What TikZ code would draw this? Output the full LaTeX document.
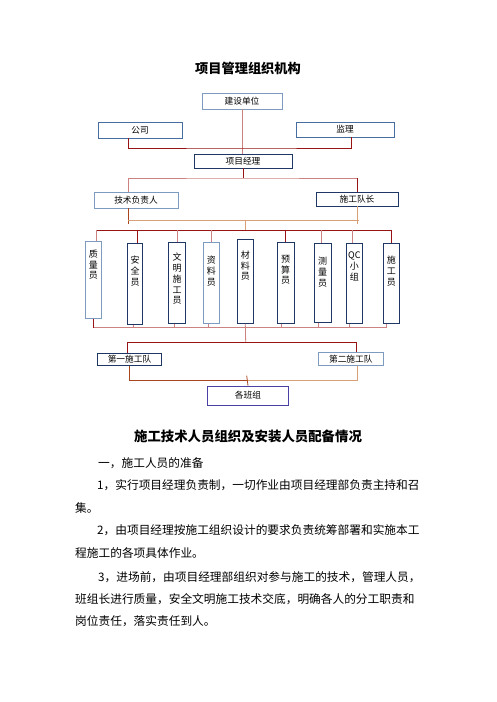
\documentclass[tikz,border=0pt]{standalone}
\usepackage{fontspec}
\setmainfont{Noto Sans CJK SC}
\usetikzlibrary{positioning}
\definecolor{lblue}{RGB}{125,155,190}
\definecolor{mblue}{RGB}{70,110,160}
\definecolor{nblue}{RGB}{30,55,100}
\definecolor{pblue}{RGB}{75,65,165}
\definecolor{lred}{RGB}{150,20,20}
\definecolor{lpink}{RGB}{205,130,130}
\definecolor{ltan}{RGB}{215,160,120}
\definecolor{lbrn}{RGB}{170,70,30}

\begin{document}
\begin{tikzpicture}[x=1pt, y=-1pt,
  hbox/.style={draw=lblue, line width=0.9pt, inner sep=0pt, font=\fontsize{8.7}{10}\selectfont},
  vbox/.style={draw=nblue, line width=0.9pt, inner sep=0pt},
  vlab/.style={anchor=north, align=center, inner sep=0pt, font=\fontsize{9}{10.8}\selectfont},
  dred/.style={draw=lred, line width=0.8pt},
  pk/.style={draw=lpink, line width=0.8pt},
  tn/.style={draw=ltan, line width=0.8pt},
  brn/.style={draw=lbrn, line width=0.8pt},
  para/.style={anchor=west, inner sep=0pt, font=\fontsize{11.7}{14}\selectfont}]
\useasboundingbox (0,0) rectangle (496,702);
\node[font=\fontsize{13.2}{15}\selectfont\bfseries] (title) at (248,68) {项目管理组织机构};
% upper levels
\node[hbox, minimum width=80pt, minimum height=16pt] (jsdw) at (242,101) {建设单位};
\node[hbox, draw=mblue, minimum width=84pt, minimum height=16pt] (gs) at (140,130) {公司};
\node[hbox, draw=mblue, minimum width=98pt, minimum height=15pt] (jl) at (345,129.5) {监理};
\node[hbox, draw=nblue, minimum width=98pt, minimum height=14pt] (xmjl) at (243,161) {项目经理};
\node[hbox, minimum width=84pt, minimum height=16pt] (jsfz) at (136,200) {技术负责人};
\node[hbox, draw=nblue, minimum width=82pt, minimum height=14pt] (sgdz) at (357,199) {施工队长};
\coordinate (j1) at (243,148);
\coordinate (j2) at (243,178);
\coordinate (j3) at (245.7,220.7);
\coordinate (sbus) at (245.7,230);
\coordinate (bbus) at (245.7,327.7);
\coordinate (j4) at (245.7,342.3);
\coordinate (j5) at (246.7,380.7);
% staff
\node[vbox, draw=lblue, minimum width=16.7pt, minimum height=77.3pt] (zly) at (93.3,279.7) {};
\node[vlab] (zly-t) at ([yshift=-9pt]zly.north) {质\\量\\员};
\node[vbox, minimum width=15.4pt, minimum height=81pt] (aqy) at (135,283.8) {};
\node[vlab] (aqy-t) at ([yshift=-13pt]aqy.north) {安\\全\\员};
\node[vbox, minimum width=17.4pt, minimum height=81pt] (wmsg) at (177,282.8) {};
\node[vlab] (wmsg-t) at ([yshift=-11pt]wmsg.north) {文\\明\\施\\工\\员};
\node[vbox, draw=lblue, minimum width=16pt, minimum height=81pt] (zlo) at (211.3,282.8) {};
\node[vlab] (zlo-t) at ([yshift=-14pt]zlo.north) {资\\料\\员};
\node[vbox, minimum width=16pt, minimum height=84.3pt] (cly) at (245.3,281.2) {};
\node[vlab] (cly-t) at ([yshift=-12pt]cly.north) {材\\料\\员};
\node[vbox, minimum width=16.7pt, minimum height=81pt] (ysy) at (285.7,282.8) {};
\node[vlab] (ysy-t) at ([yshift=-13pt]ysy.north) {预\\算\\员};
\node[vbox, minimum width=16.7pt, minimum height=79pt] (cl) at (322.7,282.8) {};
\node[vlab] (cl-t) at ([yshift=-14pt]cl.north) {测\\量\\员};
\node[vbox, minimum width=16.7pt, minimum height=80pt] (qc) at (354.3,283.3) {};
\node[vlab] (qc-t) at ([yshift=-9pt]qc.north) {QC\\小\\组};
\node[vbox, minimum width=16pt, minimum height=80pt] (sgy) at (391.3,283.3) {};
\node[vlab] (sgy-t) at ([yshift=-13pt]sgy.north) {施\\工\\员};
% teams
\node[hbox, draw=nblue, minimum width=64.4pt, minimum height=12.4pt] (dy1) at (129.5,359.5) {第一施工队};
\node[hbox, minimum width=65pt, minimum height=12.7pt] (dy2) at (350.8,358.7) {第二施工队};
\node[hbox, draw=pblue, minimum width=81.4pt, minimum height=19pt] (bz) at (248,395.5) {各班组};
% connectors
\draw[pk] (jsdw.south) -- (jsdw.south |- xmjl.north);
\draw[dred] ([xshift=-12pt]gs.south) |- (j1) -| ([xshift=6pt]jl.south);
\draw[dred] (xmjl.south) -- (j2);
\draw[pk] ([xshift=-8pt]jsfz.north) |- (j2) -- (j2 -| sgdz.north);
\draw[dred] (j2 -| sgdz.north) -- (sgdz.north);
\draw[brn] ([xshift=-8pt]jsfz.south) -- ++(0,16);
\draw[tn] (sgdz.south) -- ++(0,18);
\draw[tn] ([xshift=-8pt]jsfz.south |- j3) -- ([xshift=2pt]sgdz.south |- j3);
\draw[tn] (j3) -- (sbus);
\draw[dred] ([xshift=3pt]zly.north |- sbus) -- (sgy.north |- sbus);
\draw[pk] ([xshift=3pt]zly.north) -- ([xshift=3pt]zly.north |- sbus);
\draw[dred] ([xshift=2pt]aqy.north) -- ([xshift=2pt]aqy.north |- sbus);
\draw[pk] (wmsg.north) -- (wmsg.north |- sbus);
\draw[pk] (zlo.north) -- (zlo.north |- sbus);
\draw[dred] (ysy.north) -- (ysy.north |- sbus);
\draw[pk] ([xshift=-1pt]cl.north) -- ([xshift=-1pt]cl.north |- sbus);
\draw[pk] ([xshift=-2pt]qc.north) -- ([xshift=-2pt]qc.north |- sbus);
\draw[dred] (sgy.north) -- (sgy.north |- sbus);
\draw[pk] (zly.south |- bbus) -- ([xshift=-5pt]sgy.south |- bbus);
\draw[dred] (zly.south) -- (zly.south |- bbus);
\draw[pk] ([xshift=-2pt]aqy.south) -- ([xshift=-2pt]aqy.south |- bbus);
\draw[pk] ([xshift=-3pt]wmsg.south) -- ([xshift=-3pt]wmsg.south |- bbus);
\draw[pk] ([xshift=-3pt]zlo.south) -- ([xshift=-3pt]zlo.south |- bbus);
\draw[pk] (cly.south) -- (j4);
\draw[pk] ([xshift=-4pt]ysy.south) -- ([xshift=-4pt]ysy.south |- bbus);
\draw[pk] ([xshift=-4pt]cl.south) -- ([xshift=-4pt]cl.south |- bbus);
\draw[pk] ([xshift=-5pt]qc.south) -- ([xshift=-5pt]qc.south |- bbus);
\draw[pk] ([xshift=-5pt]sgy.south) -- ([xshift=-5pt]sgy.south |- bbus);
\draw[dred] ([xshift=-2pt]dy1.north) |- (j4) -| ([xshift=6pt]dy2.north);
\draw[brn] (dy1.south) |- (j5) -- (j5 -| dy2.south);
\draw[tn] ([xshift=6.5pt]dy2.south) -- ([xshift=6.5pt]dy2.south |- j5) -- (j5);
\draw[brn] ([yshift=5pt]j5) -- (bz.north);
% text below
\node[font=\fontsize{13.4}{15}\selectfont\bfseries] (sub) at (248,436.7) {施工技术人员组织及安装人员配备情况};
\node[para] (p0) at (98,462.7) {一，施工人员的准备};
\node[para] (p1) at (97,485) {1，实行项目经理负责制，一切作业由项目经理部负责主持和召};
\node[para] (p1b) at (75,508.3) {集。};
\node[para] (p2) at (97,530) {2，由项目经理按施工组织设计的要求负责统筹部署和实施本工};
\node[para] (p2b) at (75,553.3) {程施工的各项具体作业。};
\node[para] (p3) at (98,576.7) {3，进场前，由项目经理部组织对参与施工的技术，管理人员，};
\node[para] (p3b) at (75,599.3) {班组长进行质量，安全文明施工技术交底，明确各人的分工职责和};
\node[para] (p3c) at (75,620.7) {岗位责任，落实责任到人。};
\end{tikzpicture}
\end{document}
